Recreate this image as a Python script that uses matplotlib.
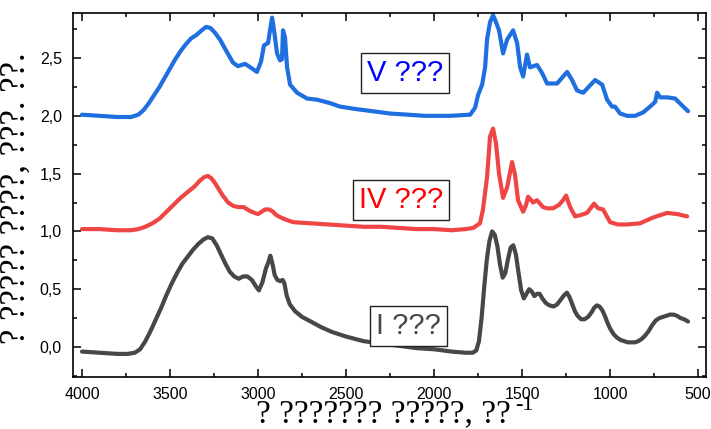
import numpy as np
import matplotlib
matplotlib.use("Agg")
import matplotlib.pyplot as plt
from matplotlib.ticker import MultipleLocator, FuncFormatter

# sample I (grey, bottom)
wn_I = [4000, 3900, 3800, 3740, 3700, 3670, 3640, 3610, 3580, 3550, 3520, 3490, 3460, 3430,
        3400, 3370, 3340, 3310, 3285, 3260, 3235, 3210, 3185, 3160, 3135, 3110, 3085, 3060,
        3035, 3010, 2995, 2975, 2955, 2942, 2930, 2918, 2905, 2890, 2875, 2860, 2850, 2838,
        2820, 2790, 2750, 2700, 2640, 2580, 2500, 2400, 2300, 2200, 2100, 2000, 1900, 1820,
        1780, 1760, 1745, 1730, 1715, 1700, 1685, 1670, 1655, 1640, 1625, 1610, 1595, 1580,
        1565, 1550, 1535, 1520, 1505, 1490, 1475, 1460, 1445, 1430, 1415, 1400, 1385, 1365,
        1345, 1320, 1300, 1280, 1260, 1245, 1230, 1215, 1200, 1185, 1165, 1145, 1125, 1105,
        1090, 1075, 1060, 1045, 1030, 1015, 1000, 980, 960, 940, 920, 900, 880, 860, 840,
        820, 800, 780, 760, 740, 720, 700, 680, 660, 640, 620, 600, 580, 557]
ab_I = [-0.04, -0.05, -0.06, -0.06, -0.05, -0.02, 0.05, 0.14, 0.24, 0.34, 0.45, 0.55, 0.64, 0.72,
        0.78, 0.84, 0.89, 0.93, 0.95, 0.94, 0.88, 0.80, 0.72, 0.65, 0.61, 0.59, 0.61, 0.61,
        0.58, 0.52, 0.49, 0.56, 0.68, 0.73, 0.79, 0.72, 0.62, 0.58, 0.57, 0.58, 0.55, 0.45,
        0.37, 0.31, 0.26, 0.22, 0.17, 0.13, 0.09, 0.05, 0.03, 0.01, -0.01, -0.02, -0.04, -0.05,
        -0.05, -0.03, 0.05, 0.25, 0.52, 0.76, 0.92, 1.00, 0.97, 0.87, 0.71, 0.60, 0.64, 0.76,
        0.86, 0.88, 0.80, 0.64, 0.49, 0.42, 0.46, 0.50, 0.48, 0.44, 0.46, 0.46, 0.42, 0.38,
        0.36, 0.35, 0.37, 0.41, 0.45, 0.47, 0.43, 0.37, 0.31, 0.27, 0.24, 0.24, 0.26, 0.30,
        0.34, 0.36, 0.35, 0.32, 0.27, 0.21, 0.16, 0.11, 0.08, 0.06, 0.05, 0.04, 0.04, 0.04, 0.05,
        0.07, 0.10, 0.14, 0.19, 0.23, 0.25, 0.26, 0.27, 0.28, 0.28, 0.27, 0.25, 0.24, 0.22]

# sample IV (red, middle)
wn_IV = [4000, 3900, 3800, 3720, 3680, 3640, 3600, 3560, 3520, 3480, 3440, 3400, 3360, 3330,
         3305, 3285, 3265, 3245, 3225, 3200, 3170, 3140, 3110, 3080, 3050, 3020, 3000, 2980,
         2960, 2935, 2915, 2895, 2870, 2840, 2800, 2700, 2600, 2500, 2400, 2300, 2200, 2100,
         2000, 1900, 1820, 1778, 1739, 1722, 1699, 1682, 1665, 1648, 1631, 1608, 1585, 1557,
         1540, 1523, 1494, 1477, 1466, 1437, 1415, 1381, 1358, 1324, 1290, 1267, 1250, 1227,
         1199, 1170, 1131, 1091, 1068, 1040, 1000, 955, 903, 830, 756, 676, 619, 562]
ab_IV = [1.02, 1.02, 1.01, 1.01, 1.02, 1.04, 1.07, 1.11, 1.17, 1.23, 1.29, 1.34, 1.39, 1.44,
         1.47, 1.48, 1.46, 1.42, 1.37, 1.31, 1.25, 1.22, 1.21, 1.21, 1.18, 1.16, 1.15, 1.17,
         1.19, 1.19, 1.17, 1.14, 1.12, 1.10, 1.08, 1.07, 1.06, 1.05, 1.04, 1.04, 1.03, 1.02,
         1.02, 1.01, 1.02, 1.03, 1.07, 1.19, 1.47, 1.82, 1.89, 1.76, 1.50, 1.29, 1.38, 1.60,
         1.49, 1.27, 1.17, 1.23, 1.30, 1.25, 1.27, 1.21, 1.20, 1.20, 1.23, 1.27, 1.31, 1.21,
         1.13, 1.14, 1.16, 1.24, 1.20, 1.19, 1.08, 1.06, 1.06, 1.07, 1.12, 1.16, 1.15, 1.13]

# sample V (blue, top)
wn_V = [4000, 3900, 3800, 3720, 3680, 3650, 3620, 3590, 3560, 3530, 3500, 3470, 3440, 3410,
        3380, 3350, 3320, 3295, 3270, 3245, 3216, 3176, 3142, 3114, 3074, 3034, 3006, 2983,
        2966, 2943, 2932, 2920, 2909, 2892, 2875, 2864, 2858, 2847, 2835, 2818, 2778, 2722,
        2665, 2591, 2534, 2450, 2350, 2250, 2150, 2050, 1909, 1795, 1767, 1750, 1727, 1710,
        1699, 1682, 1665, 1653, 1631, 1608, 1585, 1551, 1528, 1511, 1494, 1472, 1455, 1415,
        1386, 1358, 1301, 1267, 1244, 1216, 1188, 1153, 1085, 1045, 1017, 989, 972, 943, 903,
        858, 812, 773, 744, 733, 716, 676, 631, 591, 557]
ab_V = [2.01, 2.00, 1.99, 1.99, 2.01, 2.05, 2.11, 2.18, 2.25, 2.33, 2.41, 2.49, 2.56, 2.62,
        2.67, 2.70, 2.74, 2.77, 2.76, 2.72, 2.66, 2.55, 2.46, 2.43, 2.45, 2.41, 2.38, 2.47,
        2.61, 2.63, 2.74, 2.85, 2.74, 2.54, 2.48, 2.49, 2.74, 2.68, 2.42, 2.27, 2.20, 2.15,
        2.14, 2.11, 2.08, 2.06, 2.04, 2.02, 2.01, 2.00, 2.00, 2.01, 2.07, 2.18, 2.27, 2.42,
        2.66, 2.81, 2.87, 2.83, 2.74, 2.54, 2.66, 2.74, 2.63, 2.42, 2.34, 2.53, 2.42, 2.44,
        2.37, 2.28, 2.28, 2.34, 2.38, 2.31, 2.22, 2.20, 2.31, 2.27, 2.14, 2.08, 2.08, 2.02, 2.00,
        2.00, 2.03, 2.08, 2.12, 2.20, 2.16, 2.16, 2.15, 2.09, 2.04]

labels = ["I ???", "IV ???", "V ???"]
colors = ["#474747", "#f04545", "#1f6fe0"]
text_colors = ["#474747", "#ff0000", "#0000ff"]
label_pos = [(2145, 0.18), (2187, 1.27), (2165, 2.37)]

xlabel = "? ??????? ?????, ??"
ylabel = "? ????? ????, ???. ??."

fig = plt.figure(figsize=(7.11, 4.29), dpi=100)
ax = fig.add_axes([0.1027, 0.1212, 0.8903, 0.8485])

for wn, ab, c in zip([wn_I, wn_IV, wn_V], [ab_I, ab_IV, ab_V], colors):
    ax.plot(wn, ab, color=c, lw=3, solid_joinstyle="round", solid_capstyle="round")

for lab, tc, (x, y) in zip(labels, text_colors, label_pos):
    ax.text(x, y, lab, color=tc, fontsize=21, family="Liberation Sans", ha="center", va="center",
            bbox=dict(boxstyle="square,pad=0.2", fc="white", ec="#222222", lw=1))

ax.set_xlim(4051, 455)
ax.set_ylim(-0.26, 2.89)
ax.xaxis.set_major_locator(MultipleLocator(500))
ax.xaxis.set_minor_locator(MultipleLocator(250))
ax.yaxis.set_major_locator(MultipleLocator(0.5))
ax.yaxis.set_minor_locator(MultipleLocator(0.25))
ax.yaxis.set_major_formatter(FuncFormatter(lambda v, p: f"{v:.1f}".replace(".", ",")))
ax.tick_params(which="both", direction="in", top=True, right=True, width=1.1)
ax.tick_params(which="major", length=6, labelsize=11.5)
ax.tick_params(which="minor", length=3)
ax.tick_params(axis="x", pad=7)
ax.tick_params(axis="y", pad=8)
for t in ax.get_xticklabels() + ax.get_yticklabels():
    t.set_family("Liberation Sans")
for s in ax.spines.values():
    s.set_linewidth(1.2)

ax.set_xlabel(xlabel, family="Liberation Serif", fontsize=24)
ax.xaxis.label.set_va("baseline")
ax.xaxis.set_label_coords(0.49, -0.125)
ax.set_ylabel(ylabel, family="Liberation Serif", fontsize=25)
ax.yaxis.set_label_coords(-0.064, 0.49)
ax.annotate("-1", xy=(1, 0), xycoords=ax.xaxis.label, xytext=(3, 14), textcoords="offset points",
            family="Liberation Serif", fontsize=16, ha="left", va="baseline")

fig.savefig("out.png", dpi=100)
